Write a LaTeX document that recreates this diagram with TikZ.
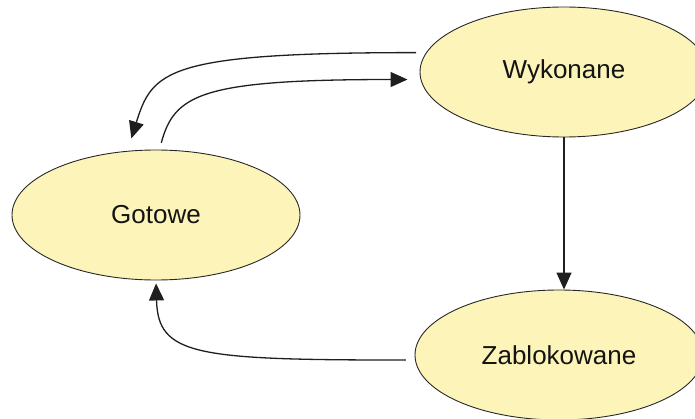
\documentclass[tikz,border=0pt]{standalone}
\usepackage{fontspec}
\setmainfont{Liberation Sans}
\usetikzlibrary{arrows.meta,shapes.geometric}
\definecolor{statefill}{RGB}{252,244,184}
\definecolor{edgeline}{RGB}{40,40,40}
\begin{document}
\begin{tikzpicture}[x=1pt,y=-1pt,
  state/.style={ellipse,draw=edgeline,line width=0.9pt,fill=statefill,
    minimum width=288pt,minimum height=130pt,inner sep=0pt,
    font=\fontsize{26}{30}\selectfont,text=black!92},
  flow/.style={draw=black!88,line width=1.3pt,
    -{Triangle[length=17pt,width=15pt]}}]
\clip (0,0) rectangle (695,419);
% process states
\node[state] (wyk) at (564,72)  {Wykonane};
\node[state] (got) at (156,215) {Gotowe};
\node[state] (zab) at (559,355) {Zablokowane};
% transitions
\draw[flow,shorten <=10pt,shorten >=13pt]
  (wyk.172) .. controls +(-260,0) and +(25,-80) .. (got.114);
\draw[flow,shorten <=7pt,shorten >=13pt]
  (got.87) .. controls +(15,-55) and +(-220,0) .. (wyk.183);
\draw[flow] (wyk.south) -- (wyk.south |- zab.north);
\draw[flow,shorten <=9pt,shorten >=3pt]
  (zab.182) .. controls +(-220,0) and +(2,75) .. (got.south);
\end{tikzpicture}
\end{document}
